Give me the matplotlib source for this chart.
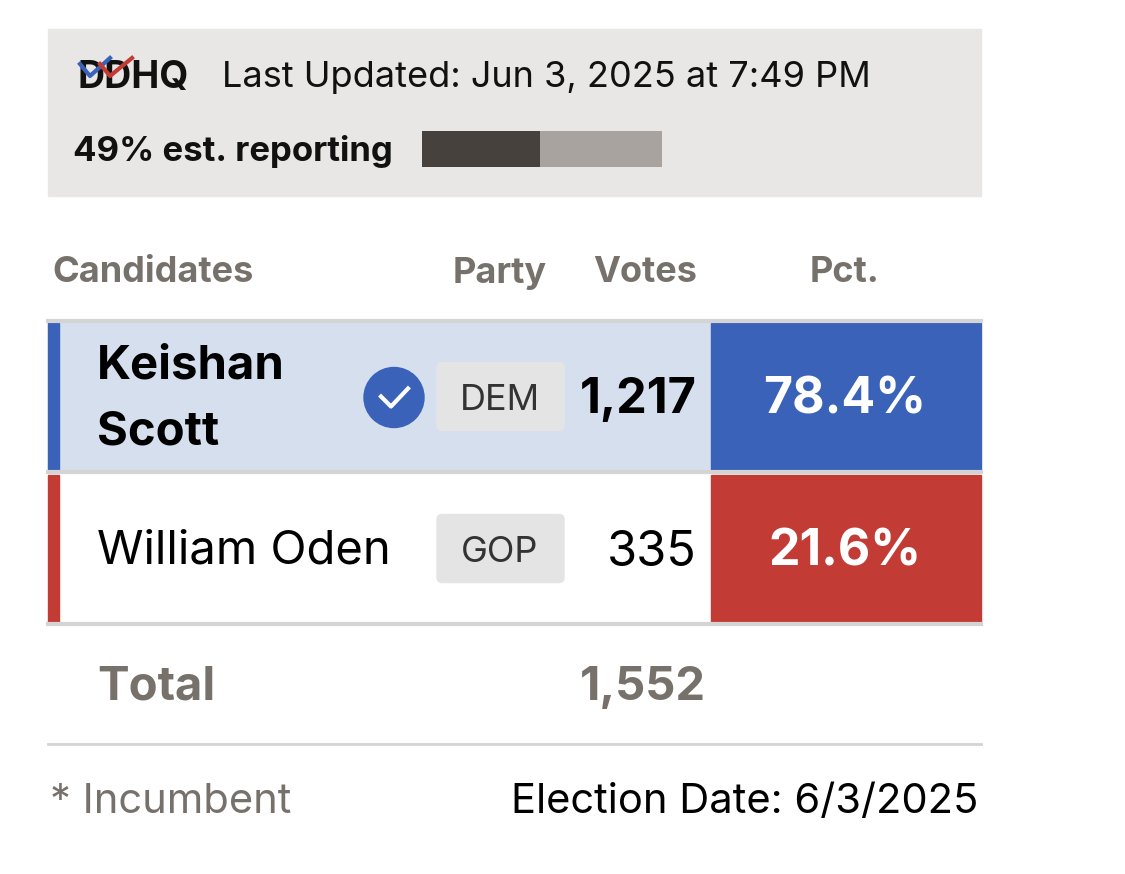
import matplotlib
matplotlib.use("Agg")
import matplotlib.pyplot as plt
from matplotlib.patches import Rectangle, FancyBboxPatch, Circle

plt.rcParams['font.family'] = ['Inter', 'DejaVu Sans']

# data
candidates = ["Keishan\nScott", "William Oden"]
parties = ["DEM", "GOP"]
votes = [1217, 335]
pcts = [78.4, 21.6]
winner = [True, False]
reporting = 49
updated = "Last Updated: Jun 3, 2025 at 7:49 PM"
election_date = "6/3/2025"

colors = {"DEM": "#3a62b8", "GOP": "#c23c35"}
row_bg = {"DEM": "#d6dfee", "GOP": "#ffffff"}
grey_txt = "#77716c"

fig = plt.figure(figsize=(11.25, 8.74), dpi=100)
ax = fig.add_axes([0, 0, 1, 1])
ax.set_xlim(0, 1125)
ax.set_ylim(874, 0)
ax.axis("off")

# header box
ax.add_patch(Rectangle((48, 29), 933, 167, color="#e8e7e5", zorder=0))
ax.text(78, 78, "DDHQ", fontsize=27, fontweight="bold", va="center", color="#111")
ax.plot([80, 90, 110], [64, 76, 58], color="#3a62b8", lw=3, zorder=5)
ax.plot([100, 110, 132], [64, 76, 58], color="#c23c35", lw=3, zorder=5)
ax.text(222, 78, updated, fontsize=26, va="center", color="#111")
ax.text(73, 151, f"{reporting}% est. reporting", fontsize=25, fontweight="bold",
        va="center", color="#111")
bar_x, bar_w = 422, 240
ax.barh(149, bar_w, left=bar_x, height=36, color="#a9a39f")
ax.barh(149, bar_w * reporting / 100, left=bar_x, height=36, color="#46413c")

# column headings
hy = 273
ax.text(52, hy, "Candidates", fontsize=26, fontweight="bold", color=grey_txt, va="center")
ax.text(500, hy, "Party", fontsize=26, fontweight="bold", color=grey_txt, va="center", ha="center")
ax.text(697, hy, "Votes", fontsize=26, fontweight="bold", color=grey_txt, va="center", ha="right")
ax.text(845, hy, "Pct.", fontsize=26, fontweight="bold", color=grey_txt, va="center", ha="center")
ax.plot([48, 981], [321, 321], color="#d4d4d4", lw=3)

row_top = [323, 475]
row_h = 147
for i, (name, party, v, p, w) in enumerate(zip(candidates, parties, votes, pcts, winner)):
    top = row_top[i]
    cy = top + row_h / 2
    c = colors[party]
    ax.add_patch(Rectangle((48, top), 663, row_h, color=row_bg[party], zorder=0))
    ax.add_patch(Rectangle((48, top), 11, row_h, color=c))
    ax.add_patch(Rectangle((711, top), 270, row_h, color=c))
    ax.text(97, cy + 3, name, fontsize=34, fontweight="bold" if w else "normal",
            va="center", color="#000", linespacing=1.65)
    if w:
        ax.add_patch(Circle((394, cy + 1), 30, color=c))
        ax.plot([381, 391, 408], [cy, cy + 10, cy - 8], color="white", lw=3)
    ax.add_patch(FancyBboxPatch((437, cy - 34), 127, 68, boxstyle="round,pad=0,rounding_size=5",
                                color="#e4e4e4"))
    ax.text(500, cy + 4, party, fontsize=26, va="center", ha="center", color="#333")
    ax.text(697, cy + 4, f"{v:,}", fontsize=35, fontweight="bold" if w else "normal",
            va="center", ha="right", color="#000")
    ax.text(845, cy + 4, f"{p}%", fontsize=36, fontweight="bold", va="center", ha="center",
            color="white")
    ax.plot([48, 981], [top + row_h + 1.5, top + row_h + 1.5], color="#d4d4d4", lw=3)

ax.text(97, 688, "Total", fontsize=34, fontweight="bold", color=grey_txt, va="center")
ax.text(706, 688, f"{sum(votes):,}", fontsize=34, fontweight="bold", color=grey_txt,
        va="center", ha="right")
ax.plot([48, 981], [744, 744], color="#d4d4d4", lw=2)

ax.text(50, 802, "* Incumbent", fontsize=30, color=grey_txt, va="center")
ax.text(978, 802, f"Election Date: {election_date}", fontsize=30, color="#000",
        va="center", ha="right")

fig.savefig("out.png", dpi=100, facecolor="white")
